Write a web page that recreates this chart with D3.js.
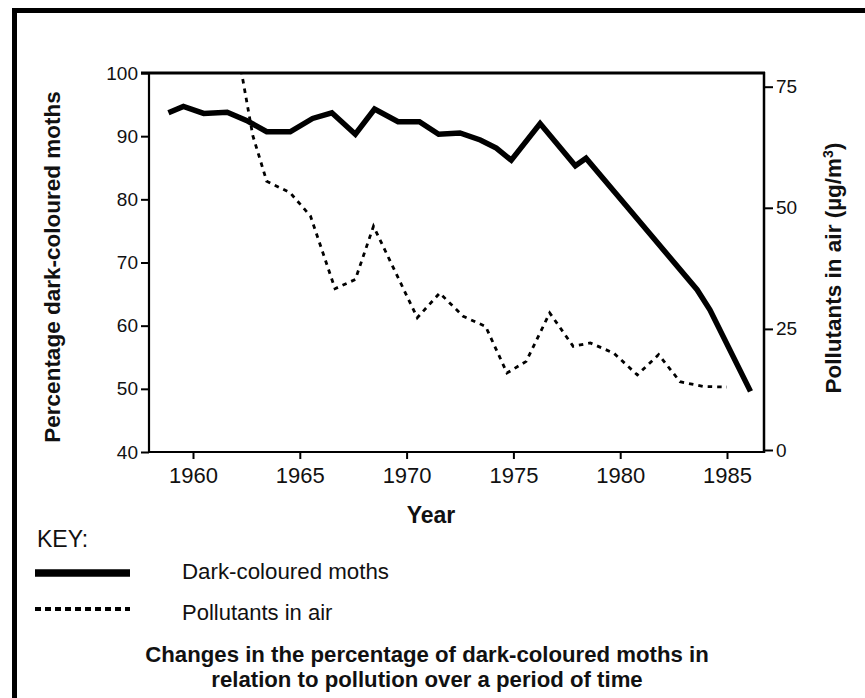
<!DOCTYPE html>
<html>
<head>
<meta charset="utf-8">
<script src="https://cdn.jsdelivr.net/npm/d3@7/dist/d3.min.js"></script>
<style>
  html, body { margin: 0; padding: 0; background: #fff; }
  svg { display: block; }
  text { font-family: "Liberation Sans", Arial, sans-serif; fill: #111; }
</style>
</head>
<body>
<svg id="chart" width="865" height="698"></svg>
<script>
// ---- data ----
const mothYears = [1958.85, 1959.55, 1960.5, 1961.6, 1962.5, 1963.45, 1964.55, 1965.6, 1966.5, 1967.6, 1968.5, 1969.6, 1970.6, 1971.5, 1972.5, 1973.45, 1974.2, 1974.9, 1976.25, 1977.9, 1978.4, 1980.5, 1983.6, 1984.2, 1986.1];
const mothPercent = [93.7, 94.7, 93.6, 93.8, 92.5, 90.7, 90.7, 92.8, 93.7, 90.3, 94.3, 92.3, 92.3, 90.3, 90.5, 89.4, 88.1, 86.2, 92.0, 85.3, 86.5, 78.1, 65.7, 62.5, 49.6];

const pollYears = [1962.25, 1962.8, 1963.45, 1964.55, 1965.5, 1966.65, 1967.6, 1968.45, 1970.5, 1971.55, 1972.65, 1973.7, 1974.7, 1975.6, 1976.7, 1977.8, 1978.6, 1979.7, 1980.8, 1981.8, 1982.8, 1983.9, 1985.0];
const pollValues = [78.5, 64.9, 55.5, 53.1, 48.3, 33.3, 35.2, 46.2, 27.3, 32.4, 27.6, 25.5, 15.9, 18.3, 28.3, 21.4, 22.1, 20.0, 15.5, 19.7, 14.1, 13.1, 13.0];

const xTickYears = [1960, 1965, 1970, 1975, 1980, 1985];
const leftTicks = [40, 50, 60, 70, 80, 90, 100];
const rightTicks = [0, 25, 50, 75];

const leftTitle = "Percentage dark-coloured moths";
const rightTitle = "Pollutants in air (µg/m";
const xTitle = "Year";
const keyTitle = "KEY:";
const keyLabels = ["Dark-coloured moths", "Pollutants in air"];
const captionLines = ["Changes in the percentage of dark-coloured moths in", "relation to pollution over a period of time"];

// ---- layout ----
const L = 149, R = 764, T = 73, B = 452;
const svg = d3.select("#chart");

const x = d3.scaleLinear().domain([1960, 1985]).range([193, 727]);
const yL = d3.scaleLinear().domain([40, 100]).range([B, T]);
const yR = d3.scaleLinear().domain([0, 75]).range([450, 86.7]);

// outer frame (top and left)
svg.append("line").attr("x1", 12).attr("x2", 865).attr("y1", 10.5).attr("y2", 10.5)
  .attr("stroke", "#000").attr("stroke-width", 5);
svg.append("line").attr("x1", 14.5).attr("x2", 14.5).attr("y1", 8).attr("y2", 698)
  .attr("stroke", "#000").attr("stroke-width", 5);

// clip
svg.append("clipPath").attr("id", "plotclip").append("rect")
  .attr("x", L).attr("y", T).attr("width", R - L).attr("height", B - T);

// axes
const gx = svg.append("g").attr("transform", `translate(0,${B})`)
  .call(d3.axisBottom(x).tickValues(xTickYears).tickFormat(d3.format("d")).tickSize(7).tickSizeOuter(0).tickPadding(8));
gx.select(".domain").remove();
svg.append("line").attr("x1", L).attr("x2", R).attr("y1", B).attr("y2", B).attr("stroke", "#000").attr("stroke-width", 2.2);

const gl = svg.append("g").attr("transform", `translate(${L},0)`)
  .call(d3.axisLeft(yL).tickValues(leftTicks).tickSize(8).tickSizeOuter(0).tickPadding(3));
gl.select(".domain").remove();
svg.append("line").attr("x1", L).attr("x2", L).attr("y1", T).attr("y2", B).attr("stroke", "#000").attr("stroke-width", 2.2);

const gr = svg.append("g").attr("transform", `translate(${R},0)`)
  .call(d3.axisRight(yR).tickValues(rightTicks).tickSize(9).tickSizeOuter(0).tickPadding(3));
gr.select(".domain").remove();
svg.append("line").attr("x1", R).attr("x2", R).attr("y1", T - 1).attr("y2", B + 1).attr("stroke", "#000").attr("stroke-width", 2.5);

// top border of plot
svg.append("line").attr("x1", L - 8).attr("x2", R + 1).attr("y1", T).attr("y2", T).attr("stroke", "#000").attr("stroke-width", 3);

[gx, gl, gr].forEach(g => {
  g.selectAll(".tick line").attr("stroke", "#000").attr("stroke-width", 2);
  g.selectAll(".tick text").style("font-size", "19px").attr("fill", "#111");
});
gx.selectAll(".tick text").style("font-size", "22px");

// lines
const mothData = mothYears.map((yr, i) => [yr, mothPercent[i]]);
const pollData = pollYears.map((yr, i) => [yr, pollValues[i]]);

const plot = svg.append("g").attr("clip-path", "url(#plotclip)");
plot.append("path").datum(pollData)
  .attr("d", d3.line().x(d => x(d[0])).y(d => yR(d[1])))
  .attr("fill", "none").attr("stroke", "#000").attr("stroke-width", 2.8)
  .attr("stroke-dasharray", "4.5,5");
plot.append("path").datum(mothData)
  .attr("d", d3.line().x(d => x(d[0])).y(d => yL(d[1])))
  .attr("fill", "none").attr("stroke", "#000").attr("stroke-width", 5.5)
  .attr("stroke-linejoin", "miter");

// axis titles
svg.append("text").attr("transform", "translate(60,267) rotate(-90)")
  .attr("text-anchor", "middle").style("font-size", "22.5px").style("font-weight", "bold")
  .text(leftTitle);
const rt = svg.append("text").attr("transform", "translate(841,268) rotate(-90)")
  .attr("text-anchor", "middle").style("font-size", "22.5px").style("font-weight", "bold");
rt.append("tspan").text(rightTitle);
rt.append("tspan").attr("dy", -8).style("font-size", "14px").text("3");
rt.append("tspan").attr("dy", 8).text(")");

svg.append("text").attr("x", 431).attr("y", 523).attr("text-anchor", "middle")
  .style("font-size", "23px").style("font-weight", "bold").text(xTitle);

// key
svg.append("text").attr("x", 37).attr("y", 547).style("font-size", "23px").text(keyTitle);
svg.append("line").attr("x1", 35).attr("x2", 130).attr("y1", 573).attr("y2", 573)
  .attr("stroke", "#000").attr("stroke-width", 7.5);
svg.append("text").attr("x", 182).attr("y", 579).style("font-size", "22.3px").text(keyLabels[0]);
svg.append("line").attr("x1", 35).attr("x2", 130).attr("y1", 609).attr("y2", 609)
  .attr("stroke", "#000").attr("stroke-width", 4).attr("stroke-dasharray", "6,4");
svg.append("text").attr("x", 182).attr("y", 620).style("font-size", "22px").text(keyLabels[1]);

// caption
captionLines.forEach((t, i) => {
  svg.append("text").attr("x", 427).attr("y", 662 + i * 25).attr("text-anchor", "middle")
    .style("font-size", "22.2px").style("font-weight", "bold").text(t);
});
</script>
</body>
</html>
